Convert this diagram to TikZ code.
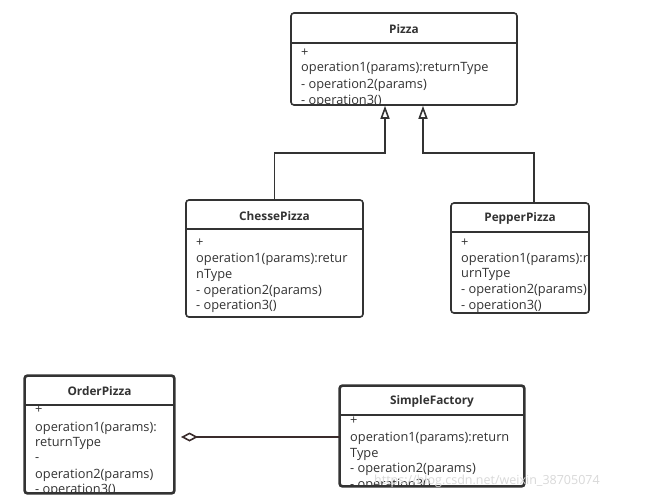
\documentclass[tikz,border=0pt]{standalone}
\usepackage{fontspec}
\setmainfont{Open Sans}
\usetikzlibrary{arrows.meta}
\definecolor{dark}{HTML}{333333}
\definecolor{agc}{HTML}{3A2C2C}
\tikzset{
  cls/.style={draw=dark, line width=1.6pt, rounded corners=3pt, fill=white, inner sep=0pt},
  hdr/.style={draw=dark, line width=1.6pt},
  ttl/.style={font=\bfseries\fontsize{11.8}{13}\selectfont, text=dark, inner sep=0pt},
  op/.style={anchor=base west, font=\fontsize{12.8}{14}\selectfont, text=dark, inner sep=0pt},
  inh/.style={draw=dark, line width=1.6pt, -{Triangle[open, length=13pt, width=9pt, line width=1.6pt]}},
  agg/.style={draw=agc, line width=1.8pt, -{Diamond[open, length=17pt, width=9pt, line width=1.6pt]}},
  wm/.style={font=\fontsize{12.5}{14}\selectfont, text=gray!30, inner sep=0pt, anchor=base west}
}
\begin{document}
\begin{tikzpicture}[x=1pt, y=-1pt]
\useasboundingbox[fill=white] (0,0) rectangle (648,499);

% ---- Pizza
\node[cls, minimum width=226pt, minimum height=92pt] (pizza) at (404,59) {};
\draw[hdr] (pizza.west |- 0,43) -- (pizza.east |- 0,43);
\node[ttl] (pizzat) at (404,29) {Pizza};
\begin{scope}
\clip (291,43) rectangle (517,105);
\node[op] (p1) at (301,56) {+};
\node[op] (p2) at (301,71) {operation1(params):returnType};
\node[op] (p3) at (301,88) {- operation2(params)};
\node[op] (p4) at (301,104) {- operation3()};
\end{scope}

% ---- ChessePizza
\node[cls, minimum width=177pt, minimum height=117pt] (chesse) at (274.5,258.5) {};
\draw[hdr] (chesse.west |- 0,229) -- (chesse.east |- 0,229);
\node[ttl] (chesset) at (274.5,216) {ChessePizza};
\begin{scope}
\clip (186,229) rectangle (363,317);
\node[op] (c1) at (196,246) {+};
\node[op] (c2) at (196,262) {operation1(params):retur};
\node[op] (c3) at (196,278) {nType};
\node[op] (c4) at (196,294) {- operation2(params)};
\node[op] (c5) at (196,309) {- operation3()};
\end{scope}

% ---- PepperPizza
\node[cls, minimum width=138pt, minimum height=110pt] (pepper) at (520,258) {};
\draw[hdr] (pepper.west |- 0,232) -- (pepper.east |- 0,232);
\node[ttl] (peppert) at (520,218) {PepperPizza};
\begin{scope}
\clip (451,232) rectangle (588,313);
\node[op] (q1) at (461,246) {+};
\node[op] (q2) at (461,262) {operation1(params):ret};
\node[op] (q3) at (461,277) {urnType};
\node[op] (q4) at (461,293) {- operation2(params)};
\node[op] (q5) at (461,309) {- operation3()};
\end{scope}

% ---- OrderPizza
\node[cls, minimum width=149pt, minimum height=117pt] (order) at (99.5,434.5) {};
\draw[hdr] (order.west |- 0,405) -- (order.east |- 0,405);
\node[ttl] (ordert) at (99.5,391) {OrderPizza};
\begin{scope}
\clip (25,405) rectangle (174,493);
\node[op] (o1) at (35,413) {+};
\node[op] (o2) at (35,431) {operation1(params):};
\node[op] (o3) at (35,446) {returnType};
\node[op] (o4) at (35,461) {-};
\node[op] (o5) at (35,478) {operation2(params)};
\node[op] (o6) at (35,493) {- operation3()};
\end{scope}
\draw[dark, line width=1.6pt, rounded corners=3pt] (order.north west) rectangle (order.south east);

% ---- SimpleFactory
\node[cls, minimum width=184pt, minimum height=100pt] (factory) at (432,436) {};
\draw[hdr] (factory.west |- 0,415) -- (factory.east |- 0,415);
\node[ttl] (factoryt) at (432,401) {SimpleFactory};
\begin{scope}
\clip (340,415) rectangle (524,486);
\node[op] (f1) at (350,424) {+};
\node[op] (f2) at (350,441) {operation1(params):return};
\node[op] (f3) at (350,457) {Type};
\node[op] (f4) at (350,472) {- operation2(params)};
\node[op] (f5) at (350,488) {- operation3()};
\end{scope}
\draw[dark, line width=1.6pt, rounded corners=3pt] (factory.north west) rectangle (factory.south east);

% ---- connectors
\coordinate (j1) at (385,153);
\coordinate (j2) at (423,153);
\draw[inh] (chesse.north) |- (j1) -- ([xshift=-19pt]pizza.south);
\draw[inh] ([xshift=14pt]pepper.north) |- (j2) -- ([xshift=19pt]pizza.south);
\coordinate (a1) at (340,437);
\coordinate (a2) at (181,437);
\draw[agg] (a1) -- (a2);

% ---- watermark
\node[wm] (wm) at (374,484) {https://blog.csdn.net/weixin\_38705074};
\end{tikzpicture}
\end{document}
